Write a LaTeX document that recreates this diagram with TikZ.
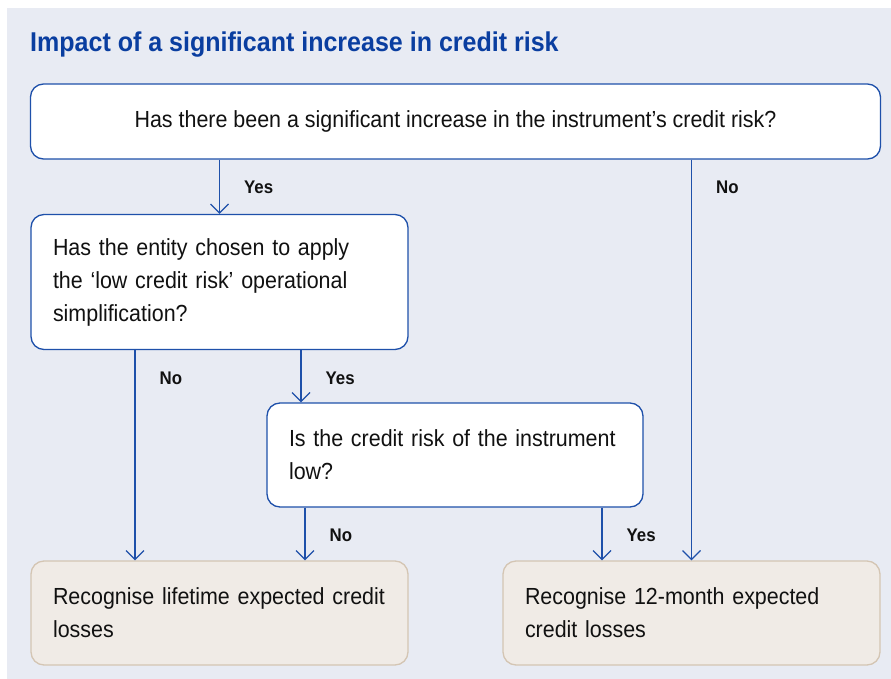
\documentclass[tikz,border=0pt]{standalone}
\usepackage{fontspec}
\setmainfont{Liberation Sans}[FakeStretch=0.92]
\usetikzlibrary{arrows.meta}
\definecolor{kblue}{HTML}{1E50AA}
\definecolor{ktitle}{HTML}{0A3EA0}
\definecolor{kback}{HTML}{E8EBF3}
\definecolor{kbeige}{HTML}{F0EBE6}
\definecolor{kbeigeline}{HTML}{D4C5B3}
\definecolor{ktext}{HTML}{111111}
\begin{document}
\begin{tikzpicture}[x=1pt,y=-1pt,
	question node/.style={rectangle,rounded corners=13pt,draw=kblue,line width=1.3pt,fill=white,text=ktext,font=\fontsize{23.3}{33}\selectfont,inner xsep=22pt,inner ysep=0pt},
	result node/.style={question node,draw=kbeigeline,fill=kbeige},
	answer/.style={font=\bfseries\fontsize{18.3}{20}\selectfont,text=ktext,anchor=west,xshift=24pt,yshift=-28pt,inner sep=0pt},
	flow/.style={draw=kblue,line width=1.2pt,-{Straight Barb[length=9pt,width=18pt]}}
]

	\useasboundingbox (0,0) rectangle (891,679);
	\fill[kback] (7,8) rectangle (891,679);

	\node[anchor=base west,text=ktitle,font=\bfseries\fontsize{27.2}{30}\selectfont,inner sep=0pt] (title) at (30,52) {Impact of a significant increase in credit risk};

	% questions
	\node[question node,minimum width=850pt,minimum height=75pt,align=center] (top) at (455.5,121.5) {Has there been a significant increase in the instrument’s credit risk?};
	\node[question node,text width=333pt,minimum height=135pt,align=left] (simp) at (219.5,282) {Has the entity chosen to apply\\the ‘low credit risk’ operational\\simplification?};
	\node[question node,text width=332pt,minimum height=104pt,align=left] (low) at (455,455) {Is the credit risk of the instrument\\low?};

	% results
	\node[result node,text width=333pt,minimum height=104pt,align=left] (life) at (219.5,613) {Recognise lifetime expected credit\\losses};
	\node[result node,text width=333pt,minimum height=104pt,align=left] (twelve) at (691.5,613) {Recognise 12-month expected\\credit losses};

	\draw[flow] (top.south -| simp.north) -- node[answer,at start] (yesA) {Yes} (simp.north);
	\draw[flow] (top.south -| twelve.north) -- node[answer,at start] (noA) {No} (twelve.north);
	\draw[flow] ([xshift=-84.5pt]simp.south) -- node[answer,at start] (noB) {No} ([xshift=-84.5pt]life.north);
	\draw[flow] ([xshift=81.5pt]simp.south) -- node[answer,at start] (yesB) {Yes} ([xshift=81.5pt]simp.south |- low.north);
	\draw[flow] ([xshift=-150pt]low.south) -- node[answer,at start] (noC) {No} ([xshift=-150pt]low.south |- life.north);
	\draw[flow] ([xshift=147pt]low.south) -- node[answer,at start] (yesC) {Yes} ([xshift=147pt]low.south |- twelve.north);
\end{tikzpicture}
\end{document}
